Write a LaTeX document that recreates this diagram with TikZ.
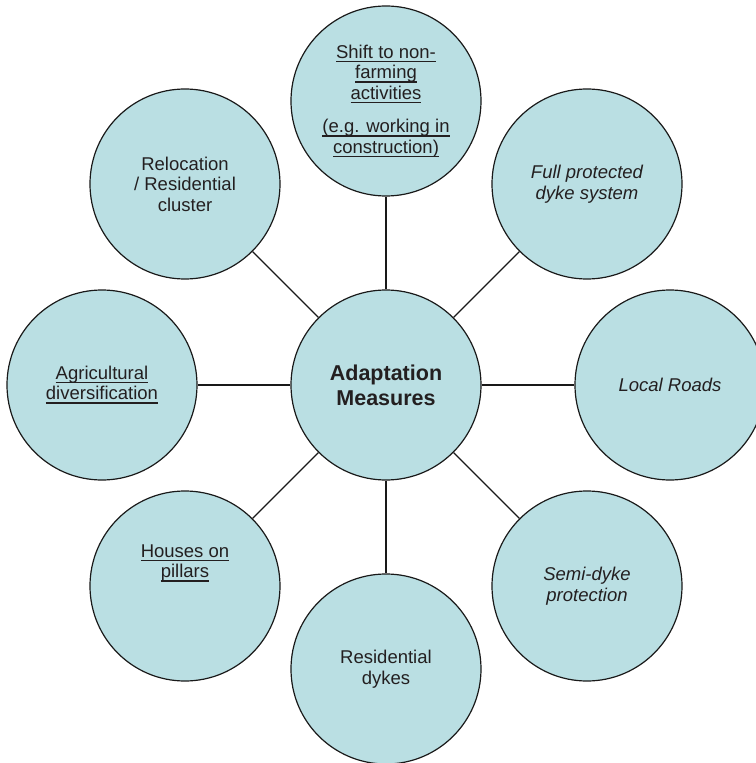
\documentclass[tikz,border=0pt]{standalone}
\usepackage{fontspec}
\setmainfont{Liberation Sans}
\definecolor{bubblefill}{RGB}{186,223,227}
\definecolor{inktext}{RGB}{35,31,32}
\newcommand\uln[1]{\setbox0\hbox{#1}\rlap{\rule[-4pt]{\wd0}{1.5pt}}\box0}
\begin{document}
\begin{tikzpicture}[x=1pt,y=1pt,
  txt/.style={align=center,text=inktext,font=\fontsize{18.5}{20.5}\selectfont},
  bubble/.style={txt,circle,draw=black!90,fill=bubblefill,line width=1.2pt,minimum size=190pt,inner sep=0pt}]
\useasboundingbox (-386,-378) rectangle (369,385);
\node[bubble,font=\bfseries\fontsize{21.5}{25}\selectfont] (adapt) at (0,0) {Adaptation\\Measures};
\node[bubble] (shift) at (0,284) {\uln{Shift to non-}\\\uln{farming}\\\uln{activities}\\[13pt]\uln{(e.g. working in}\\\uln{construction)}};
\node[bubble,font=\itshape\fontsize{18.5}{20.5}\selectfont] (fulldyke) at (201,201) {Full protected\\dyke system};
\node[bubble,font=\itshape\fontsize{18.5}{20.5}\selectfont] (roads) at (284,0) {Local Roads};
\node[bubble,font=\itshape\fontsize{18.5}{20.5}\selectfont] (semidyke) at (201,-201) {Semi-dyke\\protection};
\node[bubble] (resdyke) at (0,-284) {Residential\\dykes};
\node[bubble] (houses) at (-201,-201) {};
\node[txt] (houseslbl) at ([yshift=23pt]houses.center) {\uln{Houses on}\\\uln{pillars}};
\node[bubble] (agri) at (-284,0) {\uln{Agricultural}\\\uln{diversification}};
\node[bubble] (reloc) at (-201,201) {Relocation\\/ Residential\\cluster};
\foreach \n in {shift,fulldyke,roads,semidyke,resdyke,houses,agri,reloc}
{
    \draw[line width=1.4pt,black!90] (adapt) -- (\n);
}
\end{tikzpicture}
\end{document}
